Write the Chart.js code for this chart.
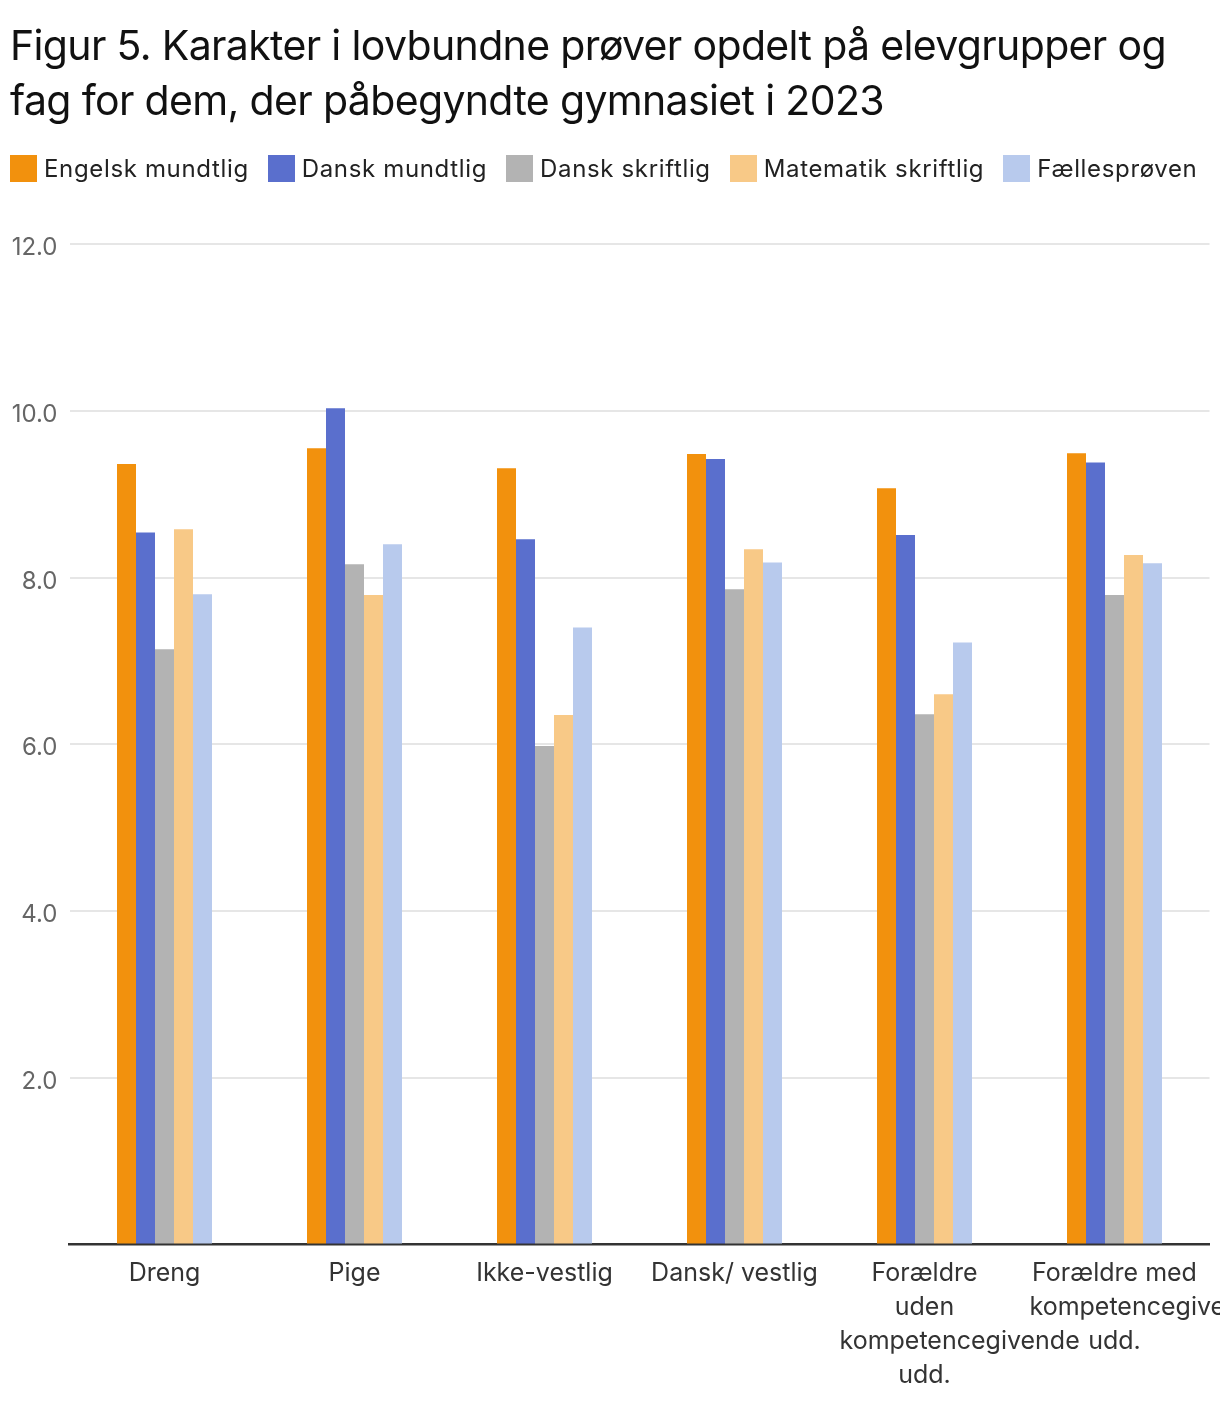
<!DOCTYPE html>
<html>
<head>
<meta charset="utf-8">
<script src="https://cdn.jsdelivr.net/npm/chart.js@4.4.1/dist/chart.umd.min.js"></script>
<style>
  body { margin: 0; background: #fff; font-family: Inter, 'Open Sans', sans-serif; }
  #page { position: relative; width: 1220px; height: 1408px; overflow: hidden; }
  #title { position: absolute; left: 10px; top: 18px; font-size: 41px; line-height: 55px;
    letter-spacing: -0.65px; color: #111; white-space: nowrap; }
  #legend { position: absolute; left: 10px; top: 155px; display: flex; gap: 19px;
    font-size: 24px; color: #222; letter-spacing: 0.65px; white-space: nowrap; }
  .item { display: flex; align-items: center; gap: 7px; height: 27px; }
  .box { width: 27px; height: 27px; }
  #wrap { position: absolute; left: 0; top: 0; width: 1220px; height: 1408px; }
</style>
</head>
<body>
<div id="page">
  <div id="wrap"><canvas id="chart"></canvas></div>
  <div id="title">Figur 5. Karakter i lovbundne prøver opdelt på elevgrupper og<br>fag for dem, der påbegyndte gymnasiet i 2023</div>
  <div id="legend"></div>
</div>
<script>
const categories = [
  ['Dreng'],
  ['Pige'],
  ['Ikke-vestlig'],
  ['Dansk/ vestlig'],
  ['Forældre', 'uden', 'kompetencegivende', 'udd.'],
  ['Forældre med', 'kompetencegivende', 'udd.']
];
const seriesNames = ['Engelsk mundtlig', 'Dansk mundtlig', 'Dansk skriftlig', 'Matematik skriftlig', 'Fællesprøven'];
const seriesColors = ['#f2910d', '#5a6fcd', '#b3b3b3', '#f8c987', '#b8caed'];

const engelskMundtlig = [9.36, 9.55, 9.31, 9.48, 9.07, 9.49];
const danskMundtlig = [8.54, 10.03, 8.46, 9.42, 8.51, 9.38];
const danskSkriftlig = [7.14, 8.16, 5.98, 7.86, 6.36, 7.79];
const matematikSkriftlig = [8.58, 7.79, 6.35, 8.34, 6.60, 8.27];
const faellesproeven = [7.80, 8.40, 7.40, 8.18, 7.22, 8.17];
const yTicks = [0, 2, 4, 6, 8, 10, 12];

const seriesValues = [engelskMundtlig, danskMundtlig, danskSkriftlig, matematikSkriftlig, faellesproeven];

// HTML legend
const legendEl = document.getElementById('legend');
legendEl.innerHTML = seriesNames.map((n, i) =>
  `<div class="item"><div class="box" style="background:${seriesColors[i]}"></div><span>${n}</span></div>`
).join('');

// x labels drawn by hand: long words start at the left of the label box
const xLabels = {
  id: 'xLabels',
  afterDraw(chart) {
    const ctx = chart.ctx;
    const xs = chart.scales.x;
    const bottom = chart.chartArea.bottom;
    ctx.save();
    ctx.font = '25px Inter, "Open Sans", sans-serif';
    ctx.fillStyle = '#333';
    ctx.textBaseline = 'middle';
    categories.forEach((lines, i) => {
      const x = xs.getPixelForValue(i);
      lines.forEach((line, j) => {
        const y = bottom + 29 + j * 34;
        const w = ctx.measureText(line).width;
        if (w > 175) {
          ctx.textAlign = 'left';
          ctx.fillText(line, x - 85, y);
        } else {
          ctx.textAlign = 'center';
          ctx.fillText(line, x, y);
        }
      });
    });
    ctx.restore();
  }
};

new Chart(document.getElementById('chart'), {
  type: 'bar',
  data: {
    labels: categories.map(c => c.join(' ')),
    datasets: seriesNames.map((n, i) => ({
      label: n,
      data: seriesValues[i],
      backgroundColor: seriesColors[i],
      borderWidth: 0,
      categoryPercentage: 0.5,
      barPercentage: 1.0
    }))
  },
  options: {
    responsive: true,
    maintainAspectRatio: false,
    animation: false,
    layout: { padding: { top: 244, right: 10.5, bottom: 0, left: 0 } },
    plugins: { legend: { display: false }, tooltip: { enabled: false } },
    scales: {
      x: {
        grid: { display: false },
        border: { display: true, color: '#333', width: 2.5 },
        ticks: { display: false },
        afterFit: s => { s.height = 163.5; }
      },
      y: {
        min: 0,
        max: 12,
        afterBuildTicks: s => { s.ticks = yTicks.map(v => ({ value: v })); },
        grid: {
          drawTicks: false,
          lineWidth: 2,
          color: c => (c.tick && c.tick.value === 0) ? 'rgba(0,0,0,0)' : '#e6e6e6'
        },
        border: { display: false },
        ticks: {
          padding: 12,
          labelOffset: 4,
          color: '#666',
          font: { family: 'Inter, "Open Sans", sans-serif', size: 24 },
          callback: v => v === 0 ? '' : v.toFixed(1)
        },
        afterFit: s => { s.width = 69.5; }
      }
    }
  },
  plugins: [xLabels]
});
</script>
</body>
</html>
